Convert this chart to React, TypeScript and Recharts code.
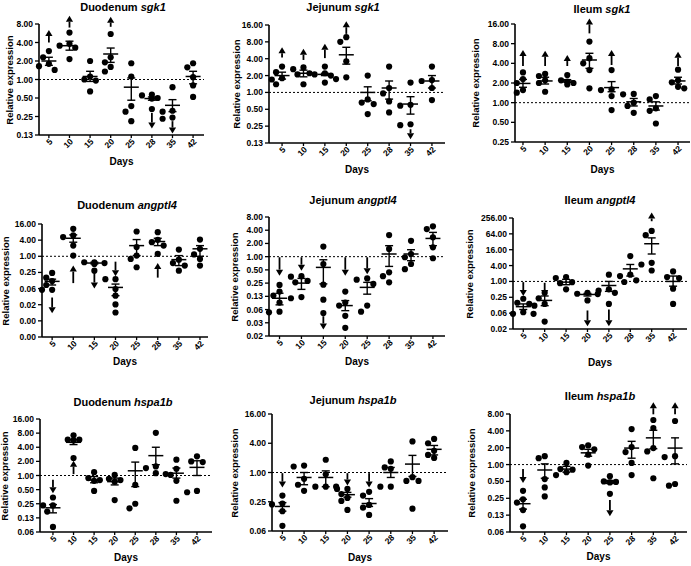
import { ScatterChart, Scatter, XAxis, YAxis, ReferenceLine, ErrorBar } from 'recharts'

const FONT = '"Liberation Sans", Arial, sans-serif'
const days = ['5', '10', '15', '20', '25', '28', '35', '42']

// relative expression per animal, grouped by day
const duoSgk1Pts = [[2.9, 2.3, 1.8, 1.65, 1.43], [5.8, 3.8, 3.55, 3.3, 2.15], [2.0, 1.12, 1.0, 0.96, 0.64], [5.5, 2.3, 1.9, 1.6, 1.35], [1.84, 1.12, 0.37, 0.3, 0.21], [0.57, 0.55, 0.5, 0.49, 0.33], [0.75, 0.31, 0.3, 0.24, 0.23], [1.84, 1.58, 1.09, 0.8, 0.52]]
const duoSgk1Mean = [2.0, 3.55, 1.12, 2.6, 0.75, 0.49, 0.38, 1.12]
const duoSgk1Lo = [1.7, 3.0, 0.93, 1.9, 0.46, 0.46, 0.3, 0.85]
const duoSgk1Hi = [2.3, 4.2, 1.36, 3.25, 1.06, 0.52, 0.47, 1.36]
const duoSgk1Arrows = [[0, 4.0, 6.4], [1, 7.0, 10.9], [3, 7.2, 10.5], [5, 0.285, 0.16], [6, 0.21, 0.132]]

const jejSgk1Pts = [[2.9, 2.3, 1.8, 1.7, 1.4], [2.8, 2.6, 2.2, 2.1, 1.4], [2.9, 2.2, 2.1, 2.0, 1.5], [9.7, 8.0, 3.6, 1.86, 1.73], [2.0, 0.75, 0.66, 0.62, 0.41], [2.9, 1.2, 0.96, 0.69, 0.44], [1.5, 0.6, 0.58, 0.27, 0.26], [2.9, 1.66, 1.6, 1.2, 0.73]]
const jejSgk1Mean = [2.0, 2.2, 2.1, 4.7, 1.0, 1.2, 0.62, 1.6]
const jejSgk1Lo = [1.73, 1.9, 2.0, 3.2, 0.71, 0.76, 0.41, 1.2]
const jejSgk1Hi = [2.3, 2.5, 2.2, 6.4, 1.26, 1.6, 0.84, 2.0]
const jejSgk1Arrows = [[0, 4.2, 6.4], [1, 3.8, 6.0], [2, 4.1, 7.4], [3, 11.1, 18.7], [6, 0.22, 0.146]]

const ileSgk1Pts = [[2.9, 2.3, 2.0, 1.56, 1.42], [2.75, 2.56, 2.2, 2.0, 1.47], [2.65, 2.2, 2.1, 2.0, 1.9], [8.6, 4.8, 4.0, 3.15, 1.66], [3.15, 1.6, 1.56, 1.26, 0.77], [1.36, 1.34, 1.0, 0.89, 0.7], [1.26, 1.12, 0.82, 0.75, 0.48], [3.2, 2.2, 2.05, 1.75, 1.66]]
const ileSgk1Mean = [1.97, 2.15, 2.15, 4.5, 1.7, 1.03, 0.89, 2.15]
const ileSgk1Lo = [1.72, 1.93, 2.05, 3.35, 1.47, 0.89, 0.77, 1.93]
const ileSgk1Hi = [2.27, 2.45, 2.25, 5.7, 2.1, 1.16, 1.03, 2.45]
const ileSgk1Arrows = [[0, 3.64, 6.4], [1, 3.64, 6.25], [2, 3.64, 5.36], [3, 11.5, 19.5], [4, 3.77, 6.4], [7, 3.64, 6.0]]

const duoAngPts = [[0.24, 0.16, 0.12, 0.085, 0.056, 0.056], [10.6, 6.0, 5.2, 2.5, 1.06], [0.6, 0.6, 0.56, 0.52, 0.29], [0.14, 0.14, 0.06, 0.034, 0.016, 0.008], [8.4, 2.2, 1.06, 0.8, 0.39], [7.9, 4.1, 3.35, 2.5, 1.22], [1.78, 0.75, 0.56, 0.45, 0.29], [4.2, 1.9, 1.17, 0.8, 0.45]]
const duoAngMean = [0.116, 4.7, 0.56, 0.069, 2.5, 3.55, 0.75, 1.9]
const duoAngLo = [0.085, 3.35, 0.52, 0.034, 1.06, 2.5, 0.45, 1.0]
const duoAngHi = [0.14, 6.3, 0.6, 0.092, 4.2, 4.7, 1.06, 2.5]
const duoAngArrows = [[0, 0.029, 0.0075], [1, 0.1, 0.45], [2, 0.24, 0.063], [3, 0.63, 0.18], [5, 0.16, 0.56]]

const jejAngPts = [[0.227, 0.16, 0.13, 0.09, 0.056, 0.054], [0.36, 0.35, 0.28, 0.26, 0.12, 0.113], [1.7, 0.68, 0.23, 0.105, 0.052], [0.16, 0.09, 0.077, 0.045, 0.024], [0.32, 0.3, 0.24, 0.077, 0.056], [3.1, 1.5, 0.44, 0.36, 0.26], [2.3, 1.15, 0.97, 0.68, 0.52], [4.9, 4.25, 2.75, 1.63, 0.92]]
const jejAngMean = [0.113, 0.25, 0.57, 0.077, 0.2, 1.15, 1.15, 2.6]
const jejAngLo = [0.08, 0.18, 0.24, 0.059, 0.14, 0.6, 0.81, 1.78]
const jejAngHi = [0.147, 0.32, 0.85, 0.1, 0.26, 1.78, 1.44, 3.57]
const jejAngArrows = [[0, 0.97, 0.37], [1, 0.97, 0.48], [2, 0.044, 0.022], [3, 0.97, 0.37], [4, 0.97, 0.4]]

const ileAngPts = [[0.22, 0.155, 0.14, 0.068, 0.059, 0.059], [0.37, 0.23, 0.14, 0.12, 0.03], [1.46, 1.34, 0.94, 0.86, 0.5], [0.37, 0.34, 0.33, 0.19], [1.8, 0.5, 0.45, 0.37, 0.14], [9.2, 1.8, 1.6, 1.1, 0.95], [83, 57, 5.1, 4.4, 2.6], [2.4, 1.46, 1.34, 0.53, 0.14]]
const ileAngMean = [0.11, 0.19, 0.94, 0.32, 0.7, 3.0, 27, 1.0]
const ileAngLo = [0.086, 0.12, 0.75, 0.28, 0.42, 1.6, 11, 0.66]
const ileAngHi = [0.14, 0.28, 1.2, 0.35, 1.0, 4.4, 45, 1.6]
const ileAngArrows = [[0, 0.94, 0.28], [1, 0.89, 0.28], [3, 0.079, 0.02], [4, 0.086, 0.02], [6, 193, 413]]

const duoHspPts = [[0.34, 0.23, 0.23, 0.17, 0.08], [7.2, 5.8, 5.8, 5.6, 2.36], [1.18, 0.88, 0.8, 0.77, 0.47], [1.03, 0.85, 0.8, 0.74, 0.3], [3.87, 0.63, 0.25, 0.2], [8.1, 1.56, 1.44, 1.12, 1.07], [2.17, 1.39, 1.03, 0.77, 0.29], [2.56, 2.0, 1.93, 0.47, 0.44]]
const duoHspMean = [0.205, 5.1, 0.8, 0.74, 1.26, 2.65, 1.12, 1.49]
const duoHspLo = [0.16, 4.56, 0.7, 0.63, 0.58, 1.7, 0.88, 1.0]
const duoHspHi = [0.24, 5.8, 0.95, 0.88, 1.93, 4.0, 1.44, 2.06]
const duoHspArrows = [[0, 0.81, 0.42], [1, 1.07, 2.07]]

const jejHspPts = [[0.335, 0.23, 0.22, 0.16, 0.08], [1.39, 1.33, 0.74, 0.56, 0.42], [1.83, 0.92, 0.51, 0.51, 0.51], [0.46, 0.46, 0.36, 0.3, 0.26, 0.17], [0.4, 0.335, 0.215, 0.19, 0.134], [1.69, 1.27, 1.19, 0.51, 0.51], [4.36, 0.8, 0.67, 0.67, 0.18], [4.9, 4.0, 2.8, 2.3, 2.0]]
const jejHspMean = [0.2, 0.79, 0.79, 0.35, 0.23, 1.0, 1.49, 3.0]
const jejHspLo = [0.16, 0.56, 0.51, 0.31, 0.2, 0.79, 0.83, 2.3]
const jejHspHi = [0.24, 1.0, 1.08, 0.39, 0.29, 1.27, 2.25, 3.6]
const jejHspArrows = [[0, 0.97, 0.49], [3, 0.97, 0.54], [4, 0.97, 0.49]]

const ileHspPts = [[0.34, 0.24, 0.21, 0.154, 0.079], [1.41, 1.3, 0.55, 0.39, 0.27], [1.07, 0.83, 0.81, 0.73, 0.65], [2.2, 2.05, 1.87, 1.5, 0.96], [0.62, 0.5, 0.49, 0.48, 0.3], [4.3, 2.05, 1.67, 1.07, 0.65], [6.25, 4.5, 1.97, 1.72, 0.57], [6.0, 1.41, 1.36, 0.45, 0.42]]
const ileHspMean = [0.2, 0.8, 0.83, 1.62, 0.49, 1.97, 3.0, 1.97]
const ileHspLo = [0.16, 0.57, 0.73, 1.41, 0.46, 1.3, 1.92, 1.03]
const ileHspHi = [0.24, 1.03, 0.93, 1.87, 0.52, 2.6, 4.1, 3.0]
const ileHspArrows = [[0, 0.83, 0.47], [4, 0.233, 0.12], [6, 7.9, 13], [7, 7.9, 13]]

const pow2 = (a: number, b: number) => {
  const out: number[] = []
  for (let e = a; e >= b; e--) out.push(Math.pow(2, e))
  return out
}
const pow4 = (a: number, b: number) => {
  const out: number[] = []
  for (let e = a; e >= b; e--) out.push(Math.pow(4, e))
  return out
}

const YW = 45
const MT = 20
const MR = 4
const XH = 30

const panels = [
  { tissue: 'Duodenum', gene: 'sgk1', pts: duoSgk1Pts, mean: duoSgk1Mean, lo: duoSgk1Lo, hi: duoSgk1Hi, arrows: duoSgk1Arrows, ticks: pow2(3, -3), x0: 39, x1: 204, yTop: 24, yBot: 135, lp: 0.42, rp: 0.53, tx: 123, ty: 7, lx: 10, dy: 162 },
  { tissue: 'Jejunum', gene: 'sgk1', pts: jejSgk1Pts, mean: jejSgk1Mean, lo: jejSgk1Lo, hi: jejSgk1Hi, arrows: jejSgk1Arrows, ticks: pow2(4, -3), x0: 269, x1: 445, yTop: 25, yBot: 143, lp: 0.61, rp: 0.61, tx: 343, ty: 7, lx: 237, dy: 170 },
  { tissue: 'Ileum', gene: 'sgk1', pts: ileSgk1Pts, mean: ileSgk1Mean, lo: ileSgk1Lo, hi: ileSgk1Hi, arrows: ileSgk1Arrows, ticks: pow2(4, -2), x0: 515, x1: 690, yTop: 24, yBot: 142, lp: 0.36, rp: 0.54, tx: 602, ty: 9, lx: 476, dy: 170 },
  { tissue: 'Duodenum', gene: 'angptl4', pts: duoAngPts, mean: duoAngMean, lo: duoAngLo, hi: duoAngHi, arrows: duoAngArrows, ticks: pow4(2, -5), x0: 42, x1: 208, yTop: 224, yBot: 337, lp: 0.47, rp: 0.38, tx: 127, ty: 205, lx: 6, dy: 362 },
  { tissue: 'Jejunum', gene: 'angptl4', pts: jejAngPts, mean: jejAngMean, lo: jejAngLo, hi: jejAngHi, arrows: jejAngArrows, ticks: pow2(3, -6), x0: 269, x1: 445, yTop: 217, yBot: 336, lp: 0.45, rp: 0.55, tx: 353, ty: 200, lx: 235, dy: 362 },
  { tissue: 'Ileum', gene: 'angptl4', pts: ileAngPts, mean: ileAngMean, lo: ileAngLo, hi: ileAngHi, arrows: ileAngArrows, ticks: pow4(4, -3), x0: 513, x1: 687, yTop: 218, yBot: 329, lp: 0.47, rp: 0.65, tx: 600, ty: 200, lx: 470, dy: 363 },
  { tissue: 'Duodenum', gene: 'hspa1b', pts: duoHspPts, mean: duoHspMean, lo: duoHspLo, hi: duoHspHi, arrows: duoHspArrows, ticks: pow2(4, -4), x0: 40, x1: 212, yTop: 419, yBot: 532, lp: 0.63, rp: 0.73, tx: 123, ty: 402, lx: 5, dy: 558 },
  { tissue: 'Jejunum', gene: 'hspa1b', pts: jejHspPts, mean: jejHspMean, lo: jejHspLo, hi: jejHspHi, arrows: jejHspArrows, ticks: pow4(2, -2), x0: 272, x1: 448, yTop: 414, yBot: 531, lp: 0.36, rp: 0.64, tx: 353, ty: 400, lx: 235, dy: 558 },
  { tissue: 'Ileum', gene: 'hspa1b', pts: ileHspPts, mean: ileHspMean, lo: ileHspLo, hi: ileHspHi, arrows: ileHspArrows, ticks: pow2(3, -4), x0: 510, x1: 687, yTop: 414, yBot: 532, lp: 0.6, rp: 0.55, tx: 600, ty: 396, lx: 472, dy: 557 },
]

// simple beeswarm: push a dot sideways when it would overlap one already placed
function swarm(vals: number[], pxLog: number, pxCat: number) {
  const placed: { dx: number; py: number }[] = []
  return vals.map((v) => {
    const py = Math.log2(v) * pxLog
    for (const dx of [0, -0.28, 0.28, -0.48, 0.48]) {
      if (placed.every((p) => Math.hypot((p.dx - dx) * pxCat, p.py - py) >= 6.3)) {
        placed.push({ dx, py })
        return dx
      }
    }
    return 0
  })
}

const Dot = (props: any) => <circle cx={props.cx} cy={props.cy} r={3.1} fill="#000" />

const MeanMark = (props: any) => (
  <line x1={props.cx - 7.5} x2={props.cx + 7.5} y1={props.cy} y2={props.cy} stroke="#000" strokeWidth={1.5} />
)

const ArrowShape = (props: any) => {
  const { x1, y1, x2, y2 } = props
  const d = y2 < y1 ? -1 : 1
  const head = 6
  return (
    <g>
      <line x1={x1} y1={y1} x2={x2} y2={y2 - d * head} stroke="#000" strokeWidth={1.8} />
      <polygon points={`${x2 - 3.6},${y2 - d * head} ${x2 + 3.6},${y2 - d * head} ${x2},${y2}`} fill="#000" />
    </g>
  )
}

const XTick = (props: any) => {
  const { x, y, payload } = props
  const ax = x + 2
  const ay = y
  return (
    <text x={ax} y={ay} transform={`rotate(-45 ${ax} ${ay})`} textAnchor="end" dominantBaseline="central"
      fontSize={8.5} fontWeight={700} fill="#000" fontFamily={FONT}>
      {days[payload.value]}
    </text>
  )
}

function Panel({ p }: { p: (typeof panels)[number] }) {
  const W = p.x1 - p.x0 + YW + MR
  const H = p.yBot - p.yTop + MT + XH
  const yMax = p.ticks[0]
  const yMin = p.ticks[p.ticks.length - 1]
  const pxCat = (p.x1 - p.x0) / (7 + p.lp + p.rp)
  const pxLog = (p.yBot - p.yTop) / Math.log2(yMax / yMin)
  const dots = p.pts.flatMap((g, i) => swarm(g, pxLog, pxCat).map((dx, j) => ({ x: i + dx, y: g[j] })))
  const means = p.mean.map((m, i) => ({ x: i, y: m, err: [m - p.lo[i], p.hi[i] - m] }))
  const txt = { position: 'absolute' as const, fontFamily: FONT, fontWeight: 700, color: '#000', whiteSpace: 'nowrap' as const, lineHeight: 1 }
  return (
    <>
      <div style={{ ...txt, left: p.tx, top: p.ty, fontSize: 11, transform: 'translate(-50%, -50%)' }}>
        {p.tissue} <i>{p.gene}</i>
      </div>
      <div style={{ ...txt, left: p.lx, top: (p.yTop + p.yBot) / 2, fontSize: 9.5, transform: 'translate(-50%, -50%) rotate(-90deg)' }}>
        Relative expression
      </div>
      <div style={{ ...txt, left: (p.x0 + p.x1) / 2, top: p.dy, fontSize: 10, transform: 'translate(-50%, -50%)' }}>
        Days
      </div>
      <div style={{ position: 'absolute', left: p.x0 - YW, top: p.yTop - MT }}>
        <ScatterChart width={W} height={H} margin={{ top: MT, right: MR, bottom: 0, left: 0 }}>
          <XAxis type="number" dataKey="x" domain={[-p.lp, 7 + p.rp]} ticks={[0, 1, 2, 3, 4, 5, 6, 7]} interval={0}
            height={XH} tickSize={3} tick={<XTick />} axisLine={{ stroke: '#000', strokeWidth: 1.6 }}
            tickLine={{ stroke: '#000', strokeWidth: 1.3 }} />
          <YAxis type="number" dataKey="y" scale="log" domain={[yMin, yMax]} ticks={p.ticks} interval={0} width={YW}
            tickSize={4} tickFormatter={(v: number) => v.toFixed(2)}
            tick={{ fontSize: 8.5, fontWeight: 700, fill: '#000', fontFamily: FONT }}
            axisLine={{ stroke: '#000', strokeWidth: 1.6 }} tickLine={{ stroke: '#000', strokeWidth: 1.3 }} />
          <ReferenceLine y={1} stroke="#000" strokeWidth={1} strokeDasharray="2 2" />
          <Scatter data={dots} shape={Dot} isAnimationActive={false} />
          <Scatter data={means} shape={MeanMark} isAnimationActive={false}>
            <ErrorBar dataKey="err" direction="y" width={4} stroke="#000" strokeWidth={1.4} isAnimationActive={false} />
          </Scatter>
          {p.arrows.map(([i, from, to]) => (
            <ReferenceLine key={`a${i}`} segment={[{ x: i, y: from }, { x: i, y: to }]} ifOverflow="visible" shape={ArrowShape} />
          ))}
        </ScatterChart>
      </div>
    </>
  )
}

export default function App() {
  return (
    <div style={{ position: 'absolute', left: 0, top: 0, width: 691, height: 566, background: '#fff', overflow: 'hidden' }}>
      {panels.map((p) => (
        <Panel key={p.tissue + p.gene} p={p} />
      ))}
    </div>
  )
}
